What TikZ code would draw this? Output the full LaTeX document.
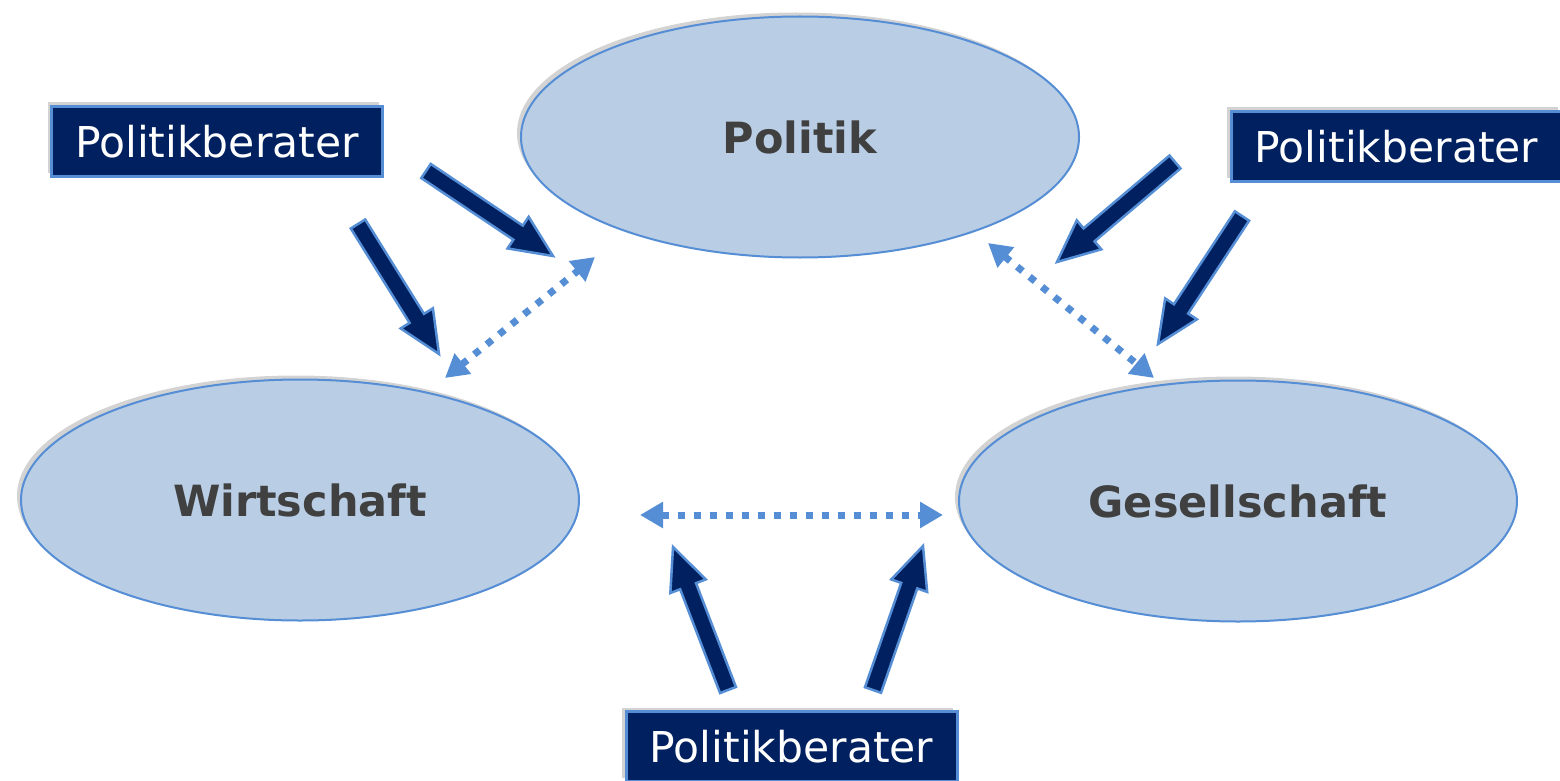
\documentclass[tikz,border=0pt]{standalone}
\usepackage{fontspec}
\setmainfont{DejaVu Sans}
\usetikzlibrary{arrows.meta}
\usetikzlibrary{calc}
\usetikzlibrary{shapes.geometric}
\usetikzlibrary{shadows}
\definecolor{navy}{HTML}{002060}
\definecolor{rand}{HTML}{558ED5}
\definecolor{hell}{HTML}{B9CDE5}
\definecolor{schrift}{HTML}{404040}

\begin{document}
\begin{tikzpicture}[x=1pt,y=-1pt,
	schatten/.style={drop shadow={shadow xshift=-4pt,shadow yshift=4pt,opacity=.35}},
	feld/.style={ellipse,draw=rand,line width=2pt,fill=hell,minimum width=558pt,minimum height=241pt,inner sep=0pt,text=schrift,font=\fontsize{43}{50}\selectfont\bfseries,schatten},
	berater/.style={rectangle,draw=rand,line width=3pt,fill=navy,minimum width=331pt,minimum height=70pt,inner sep=0pt,text=white,font=\fontsize{42.5}{50}\selectfont,schatten},
	pfeil/.style={draw=rand,fill=navy,line width=2.5pt,line join=miter},
	punkte/.style={draw=rand,line width=7pt,dash pattern=on 7pt off 9pt,<->,>={Triangle[length=23pt,width=25pt]}}]
	\useasboundingbox (0,0) rectangle (1560,781);
	\clip (0,0) rectangle (1560,781);
	\node[feld] (politik) at (800,137) {Politik};
	\node[feld] (wirtschaft) at (300,500) {Wirtschaft};
	\node[feld] (gesellschaft) at (1238,501) {Gesellschaft};
	\node[berater] (b1) at (217,141.5) {Politikberater};
	\node[berater] (b2) at (1396.5,146.5) {Politikberater};
	\node[berater] (b3) at (791.5,746.5) {Politikberater};
	\coordinate (p1a) at (426,171); \coordinate (p1b) at (553,256);
	\coordinate (p2a) at (358,224); \coordinate (p2b) at (439,354);
	\coordinate (p3a) at (1175,162); \coordinate (p3b) at (1057,262);
	\coordinate (p4a) at (1242,216); \coordinate (p4b) at (1158,344);
	\coordinate (p5a) at (728,690); \coordinate (p5b) at (673,547);
	\coordinate (p6a) at (873,690); \coordinate (p6b) at (923,546);
	\foreach \i in {1,...,6} {
		\coordinate (h) at ($(p\i b)!42pt!(p\i a)$);
		\filldraw[pfeil] ($(p\i a)!8.5pt!90:(p\i b)$) -- ($(h)!8.5pt!90:(p\i b)$) -- ($(h)!19pt!90:(p\i b)$) -- (p\i b)
			-- ($(h)!19pt!-90:(p\i b)$) -- ($(h)!8.5pt!-90:(p\i b)$) -- ($(p\i a)!8.5pt!-90:(p\i b)$) -- cycle;
	}
	\coordinate (d1a) at (445,378); \coordinate (d1b) at (595,257);
	\coordinate (d2a) at (640,515); \coordinate (d2b) at (943,515);
	\coordinate (d3a) at (988,243); \coordinate (d3b) at (1154,378);
	\foreach \i in {1,2,3} {
		\draw[punkte] (d\i a) -- (d\i b);
	}
\end{tikzpicture}
\end{document}
